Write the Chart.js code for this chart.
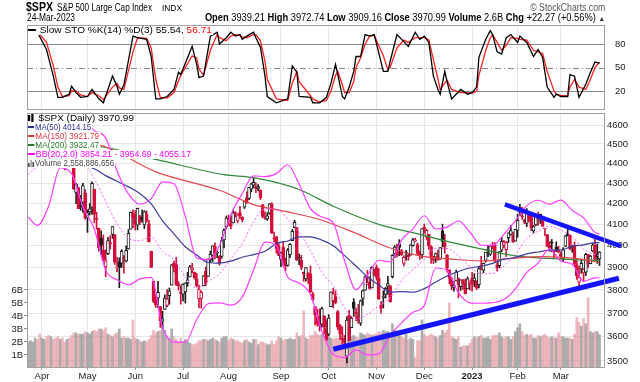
<!DOCTYPE html>
<html><head><meta charset="utf-8">
<script src="https://cdn.jsdelivr.net/npm/chart.js@4.4.0/dist/chart.umd.min.js"></script>
<style>
html,body{margin:0;padding:0;background:#fff;}
#wrap{position:relative;width:640px;height:382px;overflow:hidden;font-family:"Liberation Sans",Arial,sans-serif;color:#000;}
canvas{position:absolute;left:0;top:0;}
.t{position:absolute;white-space:nowrap;line-height:1;transform-origin:left center;z-index:5;}
.r{transform-origin:right center;}
.lg{background:#fff;font-size:9px;line-height:9px;height:9px;padding-right:1px;}
.dash{display:inline-block;width:7px;height:1.5px;vertical-align:2.5px;margin-right:1px;}
.ic{display:inline-block;width:6px;height:8px;vertical-align:-1px;position:relative;margin-right:1px;}
.ic i{position:absolute;bottom:0;width:2px;background:#000;}
.vi{display:inline-block;width:7px;height:7px;vertical-align:-1px;position:relative;margin-right:1px;}
.vi i{position:absolute;bottom:0;width:1.5px;background:#555;}
</style></head><body>
<div id="wrap">
<canvas id="c1" width="640" height="382"></canvas>
<canvas id="c2" width="640" height="382"></canvas>

<div class="t" data-w="27" style="left:26px;top:1px;font-size:12px;font-weight:bold">$SPX</div>
<div class="t" data-w="95" style="left:57px;top:2.5px;font-size:10px">S&amp;P 500 Large Cap Index</div>
<div class="t" data-w="20" style="left:162px;top:3.5px;font-size:8.5px">INDX</div>
<div class="t r" data-w="75" style="right:35px;top:2.5px;font-size:10px;color:#555">© StockCharts.com</div>
<div class="t" data-w="48" style="left:27px;top:13px;font-size:10px">24-Mar-2023</div>
<div class="t r" data-w="400" style="right:35px;top:13px;font-size:10px"><b>Open</b> 3939.21 <b>High</b> 3972.74 <b>Low</b> 3909.16 <b>Close</b> 3970.99 <b>Volume</b> 2.6B <b>Chg</b> +22.27 (+0.56%) <span style="font-size:7px;color:#333">▲</span></div>

<div class="t lg" data-w="185" style="left:28px;top:26px"><span class="dash" style="background:#000"></span> Slow STO %K(14) %D(3) 55.54, <span style="color:#f00">56.71</span></div>

<div class="t lg" data-w="107" style="left:28px;top:114px"><span class="ic"><i style="left:0;height:6px;bottom:1px"></i><i style="left:3px;height:8px"></i></span> $SPX (Daily) 3970.99</div>
<div class="t lg" data-w="64" style="left:28px;top:123px;color:#2b2b8f"><span class="dash" style="background:#2b2b8f"></span>MA(50) 4014.15</div>
<div class="t lg" data-w="72" style="left:28px;top:132px;color:#e2343c"><span class="dash" style="background:#e2343c"></span>MA(150) 3921.79</div>
<div class="t lg" data-w="72" style="left:28px;top:141px;color:#2a7a2a"><span class="dash" style="background:#2a7a2a"></span>MA(200) 3932.47</div>
<div class="t lg" data-w="164" style="left:28px;top:150px;color:#f0f"><span class="dash" style="background:#f0f"></span>BB(20,2.0) 3854.21 - 3954.69 - 4055.17</div>
<div class="t lg" data-w="87" style="left:28px;top:159px;color:#444"><span class="vi"><i style="left:0;height:4px"></i><i style="left:2.5px;height:7px"></i><i style="left:5px;height:5px"></i></span>Volume 2,558,886,656</div>
</div>
<script>
// ---------------- DATA ----------------
// daily candles, 24-Mar-2022 .. 24-Mar-2023 (index 0..251)
const open = [
4469,4523,4541,4602,4624,4600,
4541,4548,4573,4495,4474,4495,4462,4437,4395,4449,4385,4390,4473,4489,4385,4255,4279,4187,4207,4253,
4131,4160,4181,4270,4129,4081,4035,3979,3904,3963,4014,4052,4052,3900,3927,3920,3943,3930,3985,4077,4151,
4150,4096,4138,4134,4097,4148,4102,3974,3838,3765,3765,3728,3665,3715,3733,3775,3821,3920,3913,3826,3786,
3782,3792,3831,3858,3889,3880,3851,3762,3763,3818,3883,3860,3935,3955,3999,3965,3953,3951,4027,4088,
4113,4104,4107,4154,4116,4156,4133,4182,4228,4225,4270,4290,4280,4274,4267,4195,4133,4126,4154,4199,4035,4041,4001,
3937,3994,3931,3910,3959,4023,4084,4084,3941,3933,3880,3849,3876,3871,3782,3728,3683,3686,3652,3688,3634,
3610,3727,3753,3771,3706,3647,3594,3590,3520,3690,3638,3746,3703,3689,3657,3763,3799,3825,3835,3809,3881,
3901,3853,3734,3767,3780,3817,3818,3859,3963,3978,4007,3977,3919,3967,3956,3956,4000,4023,4005,3964,3957,
4087,4041,4053,3996,3934,3947,3954,3940,4069,4015,3958,3890,3853,3811,3840,3853,3815,3843,3829,3805,3830,
3853,3840,3840,3823,3910,3888,3932,3977,3961,3999,4003,3912,3909,3979,4002,3982,4037,4053,4049,4021,
4071,4158,4137,4119,4105,4153,4144,4069,4097,4127,4119,4115,4078,4052,4002,4018,3973,3993,3977,
3964,3938,3998,4055,4049,3987,3999,3913,3835,3894,3876,3879,3959,3917,3975,4002,3959,3939.21];
const high = [
4520,4546,4576,4637,4627,4603,
4548,4583,4593,4503,4521,4521,4464,4471,4453,4453,4411,4471,4489,4513,4386,4300,4279,4240,4300,4269,
4169,4200,4307,4270,4158,4082,4069,4050,3981,4039,4047,4090,4052,3946,3944,3982,3955,3999,4076,4159,4169,
4166,4178,4143,4169,4165,4164,4119,3975,3839,3778,3838,3728,3708,3779,3802,3809,3914,3928,3946,3837,3819,
3827,3832,3879,3910,3919,3880,3874,3822,3796,3864,3903,3939,3975,3999,4013,3975,3954,4039,4079,4140,
4144,4140,4167,4161,4151,4187,4137,4212,4257,4280,4301,4325,4302,4293,4267,4195,4160,4156,4200,4204,4063,4044,4016,
3970,4018,3943,3987,4010,4076,4120,4086,3962,3956,3880,3900,3876,3907,3791,3728,3716,3718,3726,3688,3672,
3693,3792,3807,3797,3711,3652,3641,3605,3685,3712,3684,3762,3721,3737,3757,3800,3862,3887,3859,3905,3893,
3912,3895,3750,3796,3813,3860,3819,3959,4001,4008,4028,3983,3954,3979,3962,4005,4034,4035,4013,3976,4080,
4101,4077,4053,4001,3951,3966,3978,3991,4101,4053,3959,3890,3855,3838,3889,3853,3845,3847,3849,3858,3840,
3879,3873,3840,3906,3951,3920,3970,3998,4003,4016,4015,3923,3973,4039,4025,4020,4060,4095,4063,4077,
4149,4196,4182,4125,4176,4156,4156,4095,4138,4159,4149,4137,4081,4052,4018,4029,3979,4018,3997,
3972,3991,4048,4079,4051,4000,4017,3934,3906,3937,3894,3965,3959,3956,4010,4039,4007,3972.74];
const low = [
4465,4501,4517,4582,4589,4530,
4507,4539,4514,4451,4450,4485,4408,4381,4392,4392,4367,4386,4455,4385,4268,4200,4175,4167,4157,4124,
4062,4145,4148,4107,4077,3975,3957,3929,3859,3959,3984,4034,3914,3880,3810,3900,3875,3925,3984,4077,4084,
4073,4074,4099,4110,4080,4110,4017,3900,3745,3724,3723,3639,3636,3715,3727,3738,3821,3880,3820,3799,3738,
3752,3743,3816,3858,3876,3848,3813,3722,3721,3818,3819,3860,3923,3927,3939,3944,3911,3942,3990,4079,
4096,4079,4107,4135,4107,4128,4112,4176,4201,4219,4257,4277,4253,4262,4219,4131,4124,4119,4147,4057,4018,3966,3954,
3904,3907,3886,3906,3945,4023,4084,3932,3913,3890,3838,3839,3828,3789,3750,3648,3644,3623,3640,3611,3584,
3604,3727,3722,3739,3629,3588,3569,3571,3492,3584,3638,3686,3667,3656,3647,3733,3799,3825,3803,3809,3863,
3843,3759,3699,3722,3764,3781,3747,3853,3945,3947,3954,3955,3907,3934,3933,3956,3998,4020,3956,3937,3943,
4058,4027,3984,3919,3918,3923,3933,3937,3994,3965,3879,3827,3801,3795,3840,3765,3798,3803,3783,3805,3800,
3795,3815,3802,3809,3890,3877,3924,3950,3955,3985,3926,3885,3899,3972,3990,3950,4014,4049,4015,4021,
4039,4142,4123,4103,4089,4112,4070,4061,4093,4095,4104,4092,4047,3995,3974,3972,3943,3973,3968,
3940,3928,3995,4045,3981,3970,3908,3847,3809,3874,3838,3864,3901,3917,3972,3936,3919,3909.16];
const close = [
4520,4543,4576,4632,4602,4530,
4546,4583,4525,4481,4500,4488,4413,4397,4447,4393,4392,4462,4459,4394,4272,4296,4175,4184,4288,4132,
4155,4175,4300,4147,4123,3991,4001,3935,3930,4024,4008,4089,3924,3901,3901,3974,3941,3979,4058,4158,4132,
4101,4177,4109,4121,4161,4116,4018,3901,3750,3735,3790,3667,3675,3765,3760,3796,3912,3900,3822,3819,3785,
3825,3831,3845,3903,3899,3854,3819,3802,3790,3863,3831,3937,3960,3999,3962,3967,3921,4024,4072,4130,
4119,4091,4155,4152,4145,4140,4122,4210,4207,4280,4297,4305,4274,4284,4228,4138,4129,4141,4199,4058,4031,3986,3955,
3967,3924,3908,3980,4006,4067,4110,3933,3946,3901,3873,3900,3856,3790,3758,3693,3655,3647,3719,3640,3586,
3678,3791,3783,3745,3640,3612,3589,3577,3670,3583,3678,3720,3695,3666,3753,3797,3859,3831,3807,3901,3872,
3856,3760,3720,3771,3807,3828,3749,3956,3993,3957,3992,3959,3947,3965,3950,4004,4027,4026,3964,3958,4080,
4077,4072,3999,3941,3934,3964,3934,3991,4020,3995,3896,3852,3818,3822,3878,3822,3845,3829,3783,3849,3840,
3824,3853,3808,3895,3892,3919,3970,3983,3999,3991,3929,3899,3973,4020,4017,4016,4060,4071,4018,4077,
4119,4180,4136,4111,4164,4118,4082,4090,4137,4136,4148,4090,4079,3997,3991,4012,3970,3982,3970,
3951,3981,4046,4048,3986,3992,3918,3862,3856,3919,3892,3960,3917,3952,4003,3937,3949,3970.99];
// volume, billions of shares
const volume = [
2.0,2.1,2.0,2.3,2.2,2.6,
2.3,2.2,2.4,2.5,2.4,2.2,2.3,2.4,2.2,2.3,2.0,2.2,2.3,2.5,2.7,2.7,2.6,2.6,2.6,2.8,
2.7,2.6,2.8,2.9,2.8,3.0,3.0,2.9,3.1,2.6,2.5,2.4,2.6,2.7,3.0,2.3,2.4,2.3,2.3,2.2,3.7,
2.3,2.2,2.1,2.0,2.1,2.0,2.2,2.5,2.9,2.7,2.8,2.9,3.4,2.9,2.5,2.3,3.0,2.4,2.2,2.0,2.3,
2.0,2.2,2.1,1.9,1.8,1.8,1.9,2.1,2.1,2.2,2.2,2.1,2.2,2.3,2.2,2.1,2.0,2.3,2.4,2.4,
2.1,2.3,2.2,2.1,2.1,2.0,1.9,2.1,2.2,2.0,1.9,2.2,2.2,1.8,2.0,2.0,1.9,1.8,1.8,2.1,1.8,2.1,2.4,
2.3,2.1,2.2,2.2,2.3,2.2,2.2,2.7,2.4,2.5,4.4,2.3,2.2,2.5,2.5,2.8,2.6,2.5,2.6,2.5,2.9,
2.4,2.3,2.2,2.3,2.3,2.2,2.6,2.3,2.8,2.5,2.4,2.5,2.4,2.3,2.7,2.6,2.5,2.7,2.6,2.5,2.6,
2.6,2.8,2.7,2.9,2.8,2.8,2.6,3.4,2.9,2.6,2.7,2.4,2.3,2.6,2.2,2.3,2.2,0.8,2.1,2.1,3.7,
2.6,2.4,2.5,2.6,2.5,2.4,2.3,2.5,2.9,2.7,2.9,5.0,2.4,2.3,2.2,2.4,1.6,1.7,1.7,1.7,1.9,
2.2,2.4,2.3,2.4,2.5,2.3,2.3,2.4,2.2,2.5,2.5,2.5,2.7,2.4,2.3,2.4,2.4,2.2,2.4,2.8,
3.1,3.4,2.8,2.5,2.6,2.5,2.6,2.3,2.3,2.5,2.4,2.5,2.6,2.4,2.3,2.4,2.3,2.3,2.7,
2.4,2.4,2.3,2.3,2.3,2.2,2.6,3.9,3.5,3.2,3.8,3.4,5.4,2.8,2.7,2.8,2.8,2.56];

// moving averages (sampled at trading-day index)
const ma50Idx = [0,9,19,29,34,39,44,49,54,59,64,69,74,79,84,89,94,99,104,109,114,119,124,129,134,139,144,149,154,159,164,169,174,179,184,189,194,199,204,209,214,219,224,229,234,239,244,249,251];
const ma50 = [4420,4412,4400,4373,4338,4310,4282,4249,4198,4117,4055,3995,3957,3923,3920,3929,3947,3959,3974,4010,4022,4041,4041,4026,4000,3954,3907,3859,3822,3791,3793,3790,3806,3835,3862,3882,3898,3906,3919,3938,3946,3962,3971,3979,3980,3998,4004,4014,4014.15];
const ma150Idx = [0,31,57,84,99,114,128,143,158,172,186,199,214,225,235,245,251];
const ma150 = [4525,4495,4353,4265,4195,4160,4123,4062,3993,3953,3938,3930,3943,3950,3946,3935,3921.79];
const ma200Idx = [0,31,57,86,99,119,134,154,172,184,199,214,235,251];
const ma200 = [4500,4487,4418,4343,4328,4269,4187,4100,4053,4020,3985,3953,3938,3932.47];

// Bollinger Bands (20,2)
const bbIdx = [0,4,9,14,19,24,29,34,39,44,49,54,59,64,69,74,79,84,89,94,99,104,109,114,119,124,129,134,139,144,149,154,159,164,169,174,179,184,189,194,199,204,209,214,219,224,229,234,239,244,249,251];
const bbUpper = [4554,4683,4721,4633,4640,4637,4570,4532,4361,4247,4197,4224,4307,4297,4137,3944,3936,4000,4146,4249,4337,4333,4348,4393,4295,4175,4135,4107,3930,3801,3865,3933,3926,4026,4079,4141,4078,4087,4116,4064,4002,4001,4054,4117,4189,4216,4197,4217,4167,4131,4062,4055.17];
const bbMid = [4344,4389,4455,4505,4494,4411,4324,4210,4103,4035,4023,4040,3973,3937,3857,3808,3838,3872,3940,4009,4113,4175,4174,4125,4063,3977,3879,3817,3722,3673,3695,3731,3766,3842,3891,3937,3988,3987,3952,3904,3872,3873,3906,3961,4033,4068,4091,4073,4041,3985,3958,3954.69];
const bbLower = [4134,4095,4189,4377,4348,4185,4078,3888,3845,3823,3849,3856,3639,3577,3577,3672,3740,3744,3734,3769,3889,4017,4000,3857,3831,3779,3623,3527,3514,3545,3525,3529,3606,3658,3703,3733,3898,3887,3788,3744,3742,3745,3758,3805,3877,3920,3985,3929,3915,3839,3854,3854.21];

// Slow stochastic %K(14) %D(3)
const stochIdx = [0,4,8,11,13,15,18,19,21,23,26,28,31,33,37,39,40,42,46,48,52,54,56,58,61,64,66,67,72,74,75,77,80,83,84,87,89,91,93,94,96,99,100,102,104,105,109,114,116,118,119,124,125,128,131,133,135,136,138,139,141,143,144,146,148,150,152,156,158,159,162,165,167,170,172,174,176,178,180,181,183,184,186,190,193,195,197,198,201,203,204,206,208,210,212,215,216,219,222,224,226,228,231,232,234,237,238,240,242,245,247,249,251];
const stochK = [95,95,73,39,12,12,16,26,18,12,13,22,10,5,39,26,16,28,90,88,86,64,10,10,13,22,44,41,77,54,37,39,90,95,80,88,95,90,92,86,90,95,88,76,39,13,5,10,52,44,13,12,5,5,12,30,54,41,13,10,25,45,64,64,92,90,92,45,45,58,92,83,77,95,86,90,82,39,22,16,45,32,10,22,16,18,25,63,86,97,92,70,67,88,92,82,90,82,64,73,63,25,12,16,13,13,41,39,12,29,44,57,55.54];
const stochD = [93,96,82,52,25,13,14,20,20,15,13,18,14,9,25,30,24,22,70,88,87,75,35,12,11,18,33,40,65,62,48,40,72,92,88,84,90,92,91,89,88,92,92,84,58,35,10,8,30,45,32,14,10,6,8,20,40,45,28,18,18,32,50,62,80,90,91,65,47,50,75,85,82,88,88,88,85,60,35,22,30,34,22,18,18,17,20,40,72,88,92,82,72,78,88,87,86,85,72,70,68,45,20,16,14,14,25,35,25,22,35,50,56.71];

// hand-drawn trendlines (index, price)
const trendDownX = [209.4, 260.4], trendDownY = [4196, 3998];
const trendUpX = [134.0, 259.5], trendUpY = [3548, 3852];

// axis ticks
const monthIdx = [6,26,47,68,88,111,132,153,174,195,215,234];
const monthLabels = ['Apr','May','Jun','Jul','Aug','Sep','Oct','Nov','Dec','2023','Feb','Mar'];
const priceTicks = [3500,3600,3700,3800,3900,4000,4100,4200,4300,4400,4500,4600];
const volTicks = [1,2,3,4,5,6];
const stochTicks = [20,50,80];

// ---------------- CHART ----------------
Chart.defaults.font.family = '"Liberation Sans", Arial, sans-serif';
Chart.defaults.font.size = 9.5;
Chart.defaults.color = '#222';

const xMin = -0.57, xMax = 253.4;
const pts = (xa, ya) => xa.map((x, i) => ({x, y: ya[i]}));

const up = close.map((c, i) => i === 0 ? c >= open[i] : c >= close[i - 1]);
const candleColor = up.map(u => u ? '#1c1c1c' : '#d3103c');
const bodyFill = close.map((c, i) => c > open[i] ? '#ffffff' : candleColor[i]);
const volColor = up.map(u => u ? 'rgba(150,150,150,0.78)' : 'rgba(226,140,150,0.62)');

const frame = {
  id: 'frame',
  beforeDatasetsDraw(chart, a, opts) {
    if (!opts.levels) return;
    const {ctx, chartArea: ca} = chart; const ys = chart.scales.y;
    ctx.save();
    opts.levels.forEach(v => {
      const y = Math.round(ys.getPixelForValue(v)) + 0.5;
      ctx.strokeStyle = v === 50 ? '#8a8a8a' : '#8a8a8a';
      ctx.lineWidth = 1;
      ctx.setLineDash(v === 50 ? [6, 3, 1, 3] : []);
      ctx.beginPath(); ctx.moveTo(ca.left, y); ctx.lineTo(ca.right, y); ctx.stroke();
    });
    ctx.restore();
  },
  afterDraw(chart) {
    const {ctx, chartArea: ca} = chart;
    ctx.save(); ctx.strokeStyle = '#a0a0a0'; ctx.lineWidth = 1; ctx.setLineDash([]);
    ctx.strokeRect(ca.left + 0.5, ca.top + 0.5, ca.right - ca.left - 1, ca.bottom - ca.top - 1);
    ctx.restore();
  }
};

const xMonths = (showLabels) => ({
  type: 'linear', min: xMin, max: xMax, bounds: 'data', offset: false, position: 'bottom',
  grid: {color: '#e6e6e6', offset: false, drawTicks: showLabels, tickLength: 2, tickColor: '#999'},
  border: {display: false},
  ticks: {display: showLabels, autoSkip: false, maxRotation: 0, padding: 1, color: '#222',
    font: c => ({size: 9.5, weight: (c.tick && c.tick.label === '2023') ? 'bold' : 'normal'}),
    callback: v => { const k = monthIdx.indexOf(v); return k >= 0 ? monthLabels[k] : ''; }},
  afterBuildTicks: s => { s.ticks = monthIdx.map(v => ({value: v})); },
  afterFit: s => { s.height = showLabels ? 14 : 0; }
});

// Stochastic panel
new Chart(document.getElementById('c1'), {
  type: 'line',
  data: {datasets: [
    {data: pts(stochIdx, stochD), borderColor: '#ff2020', borderWidth: 1.3, pointRadius: 0, tension: 0, order: 2},
    {data: pts(stochIdx, stochK), borderColor: '#000', borderWidth: 1.3, pointRadius: 0, tension: 0, order: 1}
  ]},
  options: {
    responsive: false, animation: false, devicePixelRatio: 1,
    layout: {padding: {left: 27, right: 0, top: 25, bottom: 272}},
    plugins: {legend: {display: false}, tooltip: {enabled: false}, frame: {levels: stochTicks}},
    scales: {
      x: xMonths(false),
      y: {type: 'linear', position: 'right', min: -4.2, max: 104.2, bounds: 'data',
        grid: {display: false}, border: {display: false},
        ticks: {padding: 2, color: '#222', callback: v => String(v)},
        afterBuildTicks: s => { s.ticks = stochTicks.map(v => ({value: v})); },
        afterFit: s => { s.width = 35; }}
    }
  },
  plugins: [frame]
});

// Price / volume panel
const lineDs = (xa, ya, color, w, order, extra) => Object.assign({type: 'line', data: pts(xa, ya), borderColor: color,
  borderWidth: w, pointRadius: 0, cubicInterpolationMode: 'monotone', order, yAxisID: 'y'}, extra || {});

new Chart(document.getElementById('c2'), {
  type: 'bar',
  data: {datasets: [
    lineDs(trendDownX, trendDownY, '#1414ff', 4.5, 0, {clip: false, cubicInterpolationMode: 'default', tension: 0}),
    lineDs(trendUpX, trendUpY, '#1414ff', 5, 0, {clip: false, cubicInterpolationMode: 'default', tension: 0}),
    lineDs(bbIdx, bbUpper, '#ff3cff', 1.2, 1),
    lineDs(bbIdx, bbLower, '#ff3cff', 1.2, 1),
    lineDs(bbIdx, bbMid, '#ff5cff', 1, 1, {borderDash: [2, 2]}),
    lineDs(ma50Idx, ma50, '#3b3b9e', 1.2, 1),
    lineDs(ma150Idx, ma150, '#e5454c', 1.2, 1),
    lineDs(ma200Idx, ma200, '#2f8a3a', 1.2, 1),
    {type: 'bar', data: close.map((c, i) => ({x: i, y: [open[i], c]})), backgroundColor: bodyFill, borderColor: candleColor,
      borderWidth: 1, borderSkipped: false, barThickness: 3, grouped: false, minBarLength: 1, order: 3, yAxisID: 'y'},
    {type: 'bar', data: close.map((c, i) => ({x: i, y: [low[i], high[i]]})), backgroundColor: candleColor,
      borderWidth: 0, barThickness: 1, grouped: false, order: 4, yAxisID: 'y'},
    {type: 'bar', data: volume.map((v, i) => ({x: i, y: v})), backgroundColor: volColor,
      borderWidth: 0, barThickness: 2, grouped: false, order: 9, yAxisID: 'yv'}
  ]},
  options: {
    responsive: false, animation: false, devicePixelRatio: 1,
    layout: {padding: {left: 0, right: 0, top: 113, bottom: 0}},
    plugins: {legend: {display: false}, tooltip: {enabled: false}},
    scales: {
      x: xMonths(true),
      y: {type: 'logarithmic', position: 'right', min: 3471.7, max: 4664.4, bounds: 'data',
        grid: {color: '#e6e6e6', drawTicks: false}, border: {display: false},
        ticks: {padding: 2, color: '#222', callback: v => String(v)},
        afterBuildTicks: s => { s.ticks = priceTicks.map(v => ({value: v})); },
        afterFit: s => { s.width = 35; }},
      yv: {type: 'linear', position: 'left', min: 0, max: 19.6, bounds: 'data',
        grid: {drawOnChartArea: false, drawTicks: true, tickLength: 3, tickColor: '#888'}, border: {display: false},
        ticks: {padding: 1, color: '#222', callback: v => v + 'B'},
        afterBuildTicks: s => { s.ticks = volTicks.map(v => ({value: v})); },
        afterFit: s => { s.width = 27; }}
    }
  },
  plugins: [frame]
});

// squeeze text to the widths used by the original
document.querySelectorAll('[data-w]').forEach(el => {
  const w = +el.dataset.w, cw = el.getBoundingClientRect().width;
  if (cw > 0) el.style.transform = 'scaleX(' + (w / cw).toFixed(4) + ')';
});
</script>
</body></html>
